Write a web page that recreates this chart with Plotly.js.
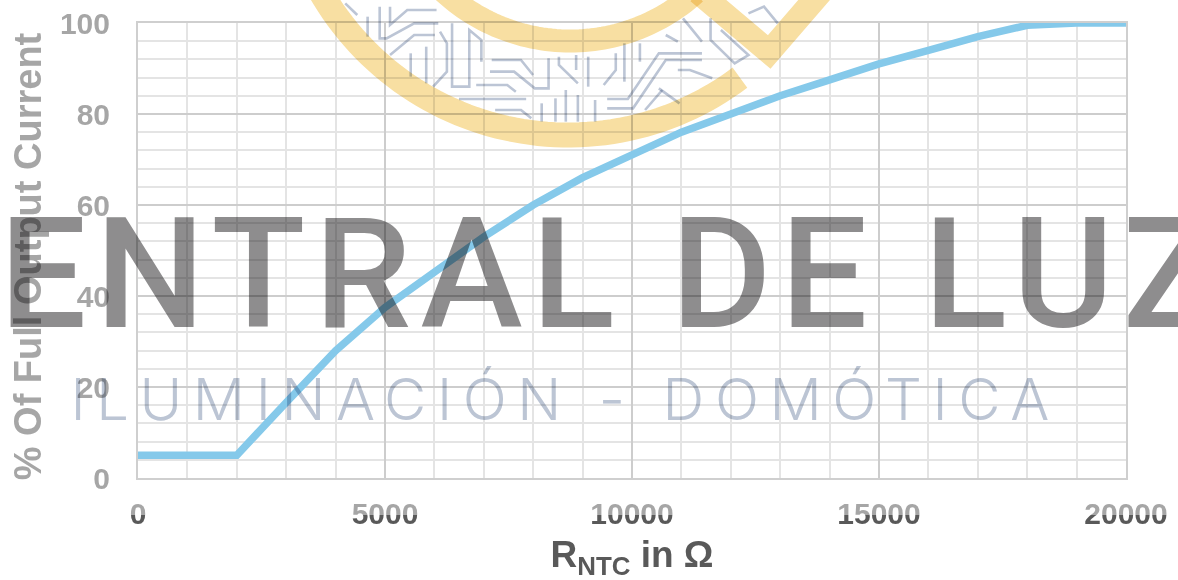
<!DOCTYPE html>
<html><head><meta charset="utf-8">
<script src="https://cdn.plot.ly/plotly-3.0.1.min.js"></script>
<style>
html,body{margin:0;padding:0;background:#fff;overflow:hidden}
#chart{width:1178px;height:580px;filter:blur(.45px)}
.main-svg{mix-blend-mode:multiply}
.layer-above .shapelayer path{mix-blend-mode:multiply}
.annotation{mix-blend-mode:multiply}
.annotation[data-index="0"] text{letter-spacing:9px}
.annotation[data-index="1"] text{letter-spacing:10.6px}
.g-ytitle{transform:translateY(6px)}
</style></head><body><div id="chart"></div>
<script>
const resistanceOhm = [0,2000,3000,4000,5000,6000,7000,8000,9000,10000,11000,12000,13000,14000,15000,16000,17000,18000,19000,20000];
const outputPercent = [5,5,16.6,28,37.5,45.5,53,60,66,71,76,80,84,87.5,91,94,97,99.5,100,100];
const xTickValues = [0,5000,10000,15000,20000];
const yTickValues = [0,20,40,60,80,100];
const xTitleText = 'R<sub>NTC</sub> in Ω';
const yTitleText = '% Of Full Output Current';
const markName = 'CENTRAL DE LUZ';
const markTagline = 'ILUMINACIÓN - DOMÓTICA';

const PL=137.5, PW=988.5, PT=23, PH=455;
const xp=px=>(px-PL)/PW, yp=py=>(PT+PH-py)/PH;
const toPath=pts=>pts.map((p,i)=>(i?'L':'M')+xp(p[0]).toFixed(5)+' '+yp(p[1]).toFixed(5)).join(' ');
function arc(cx,cy,r,a0,a1){const o=[];for(let i=0;i<=60;i++){const a=(a0+(a1-a0)*i/60)*Math.PI/180;o.push([cx+r*Math.sin(a),cy+r*Math.cos(a)]);}return o;}
const gold='#f8dfa2';
const ringShape=(pts,w)=>({type:'path',xref:'paper',yref:'paper',layer:'above',path:toPath(pts),line:{color:gold,width:w}});
const circuit=[
[[130,10],[165,45]],[[230,20],[230,115],[250,115],[330,70],[400,70]],[[260,20],[260,75],[310,30],[395,30]],
[[195,50],[195,110]],[[260,165],[330,105],[390,105]],[[320,160],[320,230]],[[365,140],[365,250]],
[[405,95],[425,130],[425,215],[385,260]],[[440,70],[440,260],[490,260],[490,90],[525,120],[525,185]],
[[555,180],[640,180],[675,225]],[[550,215],[620,215],[680,265],[720,265],[720,175]],[[510,255],[600,255],[625,275]],
[[460,297],[655,297]],[[565,330],[640,330],[670,355]],[[700,310],[700,365]],[[740,295],[740,365]],[[770,270],[770,365]],
[[805,285],[805,365]],[[855,300],[855,365]],[[750,170],[750,195],[805,250]],[[800,165],[800,210]],[[835,170],[835,260]],
[[915,160],[915,210],[880,255]],[[940,130],[940,245]],[[985,130],[985,185]],[[890,297],[950,297],[1040,160],[1165,160]],
[[890,325],[965,325],[1060,180],[1165,180]],[[1000,330],[1050,270]],[[1095,210],[1130,210],[1195,235]],[[1040,265],[1100,310]],
[[1110,55],[1165,125]],[[1190,55],[1190,120],[1260,190],[1300,165],[1220,90]],[[1060,105],[1095,125]],[[1300,40],[1345,20],[1385,70]]
].map(l=>l.map(p=>[p[0]/2.9+300,p[1]/3]));
const circuitShapes=circuit.map(l=>({type:'path',xref:'paper',yref:'paper',layer:'above',path:toPath(l),line:{color:'#bcc5d5',width:2.6}}));
const shapes=[
 ringShape(arc(568,-151,286,-62,36.9),25),
 ringShape(arc(570,-146,187,-45,42),23),
 ringShape([[698,-8],[769,52],[826,-14]],24),
 ...circuitShapes
];
const annotations=[
 {text:markName,xref:'paper',yref:'paper',x:xp(-50),y:yp(274),xanchor:'left',yanchor:'middle',showarrow:false,
  font:{family:'Roboto, sans-serif',size:154,weight:500,color:'#8e8d8e'}},
 {text:markTagline,xref:'paper',yref:'paper',x:xp(565),y:yp(399),xanchor:'center',yanchor:'middle',showarrow:false,
  font:{family:'Inter, sans-serif',size:58,weight:300,color:'#bcc5d4'}}
];
const trace={x:resistanceOhm,y:outputPercent,type:'scatter',mode:'lines',cliponaxis:false,hoverinfo:'skip',
  line:{color:'#85c9ea',width:7.5,shape:'linear'}};
const layout={width:1178,height:580,showlegend:false,paper_bgcolor:'#fff',plot_bgcolor:'#fff',
 margin:{l:PL,r:1178-PL-PW,t:PT,b:580-PT-PH,pad:0},
 font:{family:'Liberation Sans, Arial, sans-serif'},
 xaxis:{range:[0,20000],tickmode:'array',tickvals:xTickValues,ticktext:xTickValues.map(String),ticks:'outside',ticklen:8,tickcolor:'rgba(0,0,0,0)',
  tickfont:{size:30,weight:700,color:'#808080'},showgrid:true,gridcolor:'#cdcdcd',gridwidth:2,
  minor:{dtick:1000,showgrid:true,gridcolor:'#e4e4e4',gridwidth:2,ticks:''},
  showline:true,linecolor:'#cfcfcf',linewidth:2,mirror:true,zeroline:false,automargin:false,
  title:{text:xTitleText,standoff:16,font:{size:37,weight:700,color:'#595959'}}},
 yaxis:{range:[0,100],tickmode:'array',tickvals:yTickValues,ticktext:yTickValues.map(String),ticks:'outside',ticklen:20,tickcolor:'rgba(0,0,0,0)',
  tickfont:{size:30,weight:700,color:'#a6a6a6'},showgrid:true,gridcolor:'#cdcdcd',gridwidth:2,
  minor:{dtick:4,showgrid:true,gridcolor:'#e4e4e4',gridwidth:2,ticks:''},
  showline:true,linecolor:'#cfcfcf',linewidth:2,mirror:true,zeroline:false,automargin:false,
  title:{text:yTitleText,standoff:7,font:{size:38,weight:700,color:'#a6a6a6'}}},
 shapes,annotations};
Plotly.newPlot('chart',[trace],layout,{displayModeBar:false,staticPlot:true}).then(()=>{
  const svg=document.querySelector('#chart .main-svg');
  const ns='http://www.w3.org/2000/svg';
  const defs=svg.querySelector('defs')||svg.insertBefore(document.createElementNS(ns,'defs'),svg.firstChild);
  const g=document.createElementNS(ns,'linearGradient');
  g.setAttribute('id','tickSplit');g.setAttribute('x1','0');g.setAttribute('x2','0');g.setAttribute('y1','0');g.setAttribute('y2','1');
  [['0','#a6a6a6'],['0.56','#a6a6a6'],['0.56','#595959'],['1','#595959']].forEach(s=>{const st=document.createElementNS(ns,'stop');st.setAttribute('offset',s[0]);st.setAttribute('stop-color',s[1]);g.appendChild(st);});
  defs.appendChild(g);
  document.querySelectorAll('#chart .xtick text').forEach(t=>{t.style.fill='url(#tickSplit)';});
});
</script></body></html>
